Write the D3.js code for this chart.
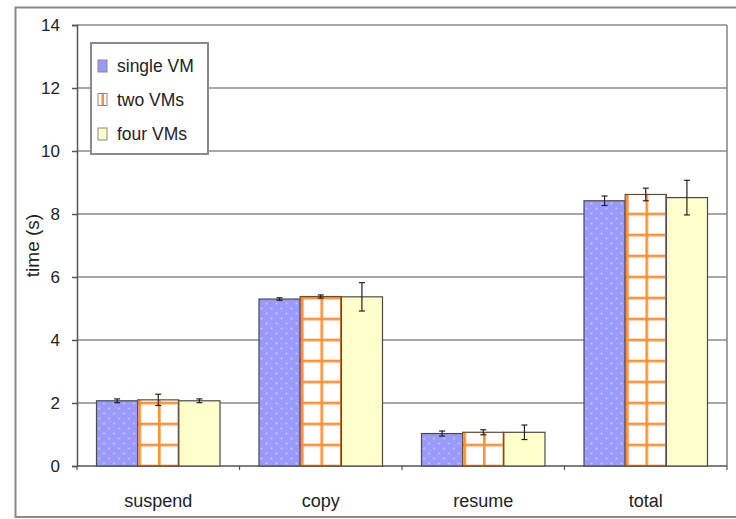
<!DOCTYPE html>
<html>
<head>
<meta charset="utf-8">
<script src="https://cdn.jsdelivr.net/npm/d3@7"></script>
<style>
  html, body { margin: 0; padding: 0; background: #fff; }
  svg { display: block; font-family: "Liberation Sans", Arial, sans-serif; }
</style>
</head>
<body>
<svg id="chart" width="736" height="519"></svg>
<script>
// Phase timings of VM migration (seconds), mean and error per configuration
const categories = ["suspend", "copy", "resume", "total"];
const seriesNames = ["single VM", "two VMs", "four VMs"];
const singleVM = [2.07, 5.30, 1.03, 8.42];
const twoVMs   = [2.10, 5.38, 1.07, 8.62];
const fourVMs  = [2.07, 5.37, 1.07, 8.52];
const singleErr = [0.06, 0.04, 0.08, 0.15];
const twoErr    = [0.18, 0.05, 0.08, 0.20];
const fourErr   = [0.06, 0.45, 0.23, 0.55];
const yTicks = [0, 2, 4, 6, 8, 10, 12, 14];

const values = [singleVM, twoVMs, fourVMs];
const errors = [singleErr, twoErr, fourErr];

const svg = d3.select("#chart");
const defs = svg.append("defs");

const plot = { left: 77, right: 727, top: 25, bottom: 466 };

const y = d3.scaleLinear().domain([0, 14]).range([plot.bottom, plot.top]);
const x = d3.scaleBand().domain(categories)
  .range([plot.left, plot.right]).paddingInner(0.24).paddingOuter(0.12);
const xs = d3.scaleBand().domain(d3.range(seriesNames.length))
  .range([0, x.bandwidth()]);

const gridColor = "#8a8a8a";
const axisColor = "#555";
const textColor = "#222";

// outer chart frame
svg.append("rect")
  .attr("x", 15.5).attr("y", 7.5).attr("width", 760).attr("height", 509.5)
  .attr("fill", "none").attr("stroke", "#8a8a8a").attr("stroke-width", 2);

// horizontal gridlines
svg.append("g").selectAll("line").data(yTicks.filter(t => t > 0)).join("line")
  .attr("x1", plot.left).attr("x2", plot.right)
  .attr("y1", d => y(d)).attr("y2", d => y(d))
  .attr("stroke", gridColor).attr("stroke-width", 1.6);

// right border of plot area
svg.append("line")
  .attr("x1", plot.right).attr("x2", plot.right)
  .attr("y1", plot.top).attr("y2", plot.bottom)
  .attr("stroke", gridColor).attr("stroke-width", 1.6);

// y axis
const yAxis = d3.axisLeft(y).tickValues(yTicks).tickSize(5).tickPadding(12);
const gy = svg.append("g").attr("transform", `translate(${plot.left},0)`).call(yAxis);
gy.select(".domain").attr("stroke", axisColor).attr("stroke-width", 1.5);
gy.selectAll(".tick line").attr("stroke", axisColor).attr("stroke-width", 1.5);
gy.selectAll(".tick text").attr("fill", textColor)
  .style("font-size", "17px").style("font-family", "Liberation Sans, Arial, sans-serif");

// x axis with ticks between categories
const boundaries = d3.range(categories.length + 1).map(i => plot.left + i * x.step());
const gx = svg.append("g");
gx.append("line")
  .attr("x1", plot.left).attr("x2", plot.right)
  .attr("y1", plot.bottom).attr("y2", plot.bottom)
  .attr("stroke", axisColor).attr("stroke-width", 1.5);
gx.selectAll("line.bt").data(boundaries).join("line").attr("class", "bt")
  .attr("x1", d => d).attr("x2", d => d)
  .attr("y1", plot.bottom).attr("y2", plot.bottom + 4)
  .attr("stroke", axisColor).attr("stroke-width", 1.2);
gx.selectAll("text").data(categories).join("text")
  .attr("x", d => x(d) + x.bandwidth() / 2)
  .attr("y", 507)
  .attr("text-anchor", "middle")
  .attr("fill", textColor)
  .style("font-size", "18px")
  .text(d => d);

// y axis title
svg.append("text")
  .attr("transform", `translate(39,${(plot.top + plot.bottom) / 2}) rotate(-90)`)
  .attr("text-anchor", "middle")
  .attr("fill", textColor)
  .style("font-size", "19px")
  .text("time (s)");

// fill patterns
function dotPattern(id, ox, oy) {
  const p = defs.append("pattern").attr("id", id)
    .attr("patternUnits", "userSpaceOnUse")
    .attr("x", ox).attr("y", oy).attr("width", 10).attr("height", 10);
  p.append("rect").attr("width", 10).attr("height", 10).attr("fill", "#9a9afc");
  p.append("circle").attr("cx", 2.5).attr("cy", 2.5).attr("r", 1).attr("fill", "#c9c9ff");
  p.append("circle").attr("cx", 7.5).attr("cy", 7.5).attr("r", 1).attr("fill", "#c9c9ff");
  return `url(#${id})`;
}
function gridPattern(id, ox, oy) {
  const w = 19.5, h = 21;
  const p = defs.append("pattern").attr("id", id)
    .attr("patternUnits", "userSpaceOnUse")
    .attr("x", ox).attr("y", oy).attr("width", w).attr("height", h);
  p.append("rect").attr("width", w).attr("height", h).attr("fill", "#fff");
  p.append("rect").attr("x", 0).attr("y", 0).attr("width", 2.6).attr("height", h).attr("fill", "#ff9033");
  p.append("rect").attr("x", 0).attr("y", 0).attr("width", w).attr("height", 2.6).attr("fill", "#ff9033");
  return `url(#${id})`;
}

const legendSwatch = ["#9a9afc", "#ff9033", "#ffffcc"];

// bars and error bars
const barData = [];
categories.forEach((c, ci) => {
  seriesNames.forEach((s, si) => {
    barData.push({ c, ci, si, v: values[si][ci], e: errors[si][ci] });
  });
});

const bars = svg.append("g");
barData.forEach(d => {
  const bx = x(d.c) + xs(d.si);
  const bw = xs.bandwidth();
  let fill;
  if (d.si === 0) fill = dotPattern(`dots-${d.ci}`, bx, y(0));
  else if (d.si === 1) fill = gridPattern(`grid-${d.ci}`, bx + 0.8, y(0) - 1.3);
  else fill = "#ffffcc";
  bars.append("rect")
    .attr("x", bx).attr("y", y(d.v))
    .attr("width", bw).attr("height", y(0) - y(d.v))
    .attr("fill", fill)
    .attr("stroke", d.si === 1 ? "#6b4a2e" : "#4a4a4a")
    .attr("stroke-width", 1.2);
});

const errG = svg.append("g").attr("stroke", "#222").attr("stroke-width", 1.2);
barData.forEach(d => {
  const cx = x(d.c) + xs(d.si) + xs.bandwidth() / 2;
  const y1 = y(d.v + d.e), y2 = y(d.v - d.e);
  errG.append("line").attr("x1", cx).attr("x2", cx).attr("y1", y1).attr("y2", y2);
  errG.append("line").attr("x1", cx - 3).attr("x2", cx + 3).attr("y1", y1).attr("y2", y1);
  errG.append("line").attr("x1", cx - 3).attr("x2", cx + 3).attr("y1", y2).attr("y2", y2);
});

// legend
const lg = svg.append("g");
lg.append("rect")
  .attr("x", 91).attr("y", 43).attr("width", 117).attr("height", 111)
  .attr("fill", "#fff").attr("stroke", "#8a8a8a").attr("stroke-width", 2);
const rowY = [66, 99.5, 134];
seriesNames.forEach((s, i) => {
  const sx = 98, sy = rowY[i] - 6;
  const fill = i === 1 ? "#fff" : legendSwatch[i];
  lg.append("rect").attr("x", sx).attr("y", sy).attr("width", 9).attr("height", 12)
    .attr("fill", fill).attr("stroke", "#888").attr("stroke-width", 1);
  if (i === 1) {
    lg.append("rect").attr("x", sx + 3.5).attr("y", sy + 0.5).attr("width", 2.5).attr("height", 11)
      .attr("fill", legendSwatch[1]);
  }
  lg.append("text").attr("x", 117).attr("y", rowY[i] + 6)
    .attr("fill", textColor).style("font-size", "17.5px").text(s);
});
</script>
</body>
</html>
